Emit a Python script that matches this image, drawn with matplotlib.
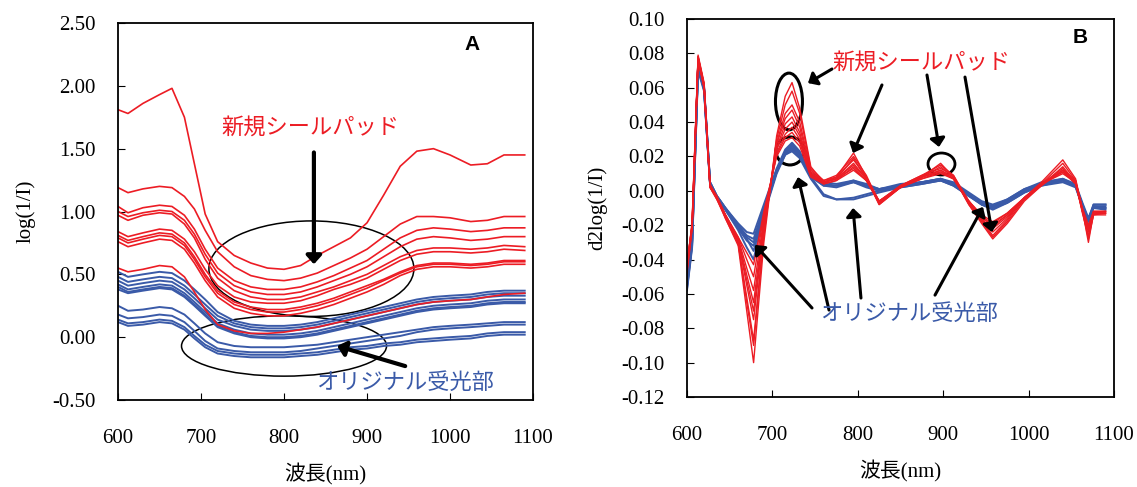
import matplotlib
matplotlib.use("Agg")
import matplotlib.pyplot as plt
from matplotlib.patches import Ellipse

plt.rcParams["font.family"] = ["Liberation Serif", "Noto Sans CJK JP"]

RED = "#ec1c24"
BLUE = "#3a5aa8"
JP = ["Noto Sans CJK JP"]

# ---- panel A: log(1/I) spectra ----
WL_A = [600, 612, 630, 650, 665, 680, 692, 705, 720, 740, 760, 780, 800, 820,
        840, 860, 880, 900, 920, 940, 960, 980, 1000, 1025, 1045, 1065, 1090]

red_a = [
    [1.81, 1.78, 1.86, 1.93, 1.98, 1.75, 1.38, 0.98, 0.76, 0.65, 0.59, 0.55, 0.54, 0.57,
     0.65, 0.72, 0.79, 0.91, 1.13, 1.36, 1.48, 1.50, 1.45, 1.37, 1.38, 1.45, 1.45],
    [1.19, 1.15, 1.18, 1.20, 1.19, 1.12, 1.02, 0.85, 0.68, 0.56, 0.49, 0.46, 0.45, 0.47,
     0.51, 0.57, 0.63, 0.70, 0.80, 0.90, 0.96, 0.96, 0.95, 0.92, 0.93, 0.96, 0.96],
    [1.04, 0.99, 1.03, 1.05, 1.04, 0.97, 0.86, 0.70, 0.55, 0.45, 0.40, 0.38, 0.38, 0.40,
     0.44, 0.49, 0.55, 0.61, 0.70, 0.79, 0.85, 0.87, 0.86, 0.84, 0.85, 0.87, 0.87],
    [1.00, 0.96, 0.99, 1.01, 1.00, 0.93, 0.82, 0.66, 0.51, 0.41, 0.36, 0.34, 0.34, 0.36,
     0.40, 0.45, 0.50, 0.56, 0.64, 0.72, 0.78, 0.80, 0.79, 0.77, 0.78, 0.80, 0.80],
    [0.97, 0.93, 0.97, 0.99, 0.98, 0.90, 0.79, 0.62, 0.47, 0.37, 0.32, 0.30, 0.30, 0.32,
     0.36, 0.40, 0.45, 0.50, 0.57, 0.64, 0.69, 0.71, 0.71, 0.70, 0.71, 0.73, 0.72],
    [0.84, 0.80, 0.83, 0.86, 0.85, 0.78, 0.68, 0.54, 0.41, 0.32, 0.28, 0.27, 0.27, 0.29,
     0.33, 0.38, 0.42, 0.47, 0.54, 0.61, 0.66, 0.68, 0.68, 0.67, 0.68, 0.70, 0.69],
    [0.81, 0.77, 0.80, 0.83, 0.82, 0.75, 0.64, 0.50, 0.37, 0.28, 0.24, 0.22, 0.22, 0.24,
     0.27, 0.31, 0.36, 0.41, 0.46, 0.52, 0.57, 0.59, 0.59, 0.58, 0.59, 0.61, 0.61],
    [0.79, 0.75, 0.78, 0.81, 0.80, 0.73, 0.62, 0.48, 0.35, 0.26, 0.22, 0.20, 0.20, 0.22,
     0.25, 0.29, 0.34, 0.39, 0.45, 0.51, 0.56, 0.58, 0.58, 0.57, 0.58, 0.60, 0.60],
    [0.76, 0.72, 0.75, 0.78, 0.77, 0.70, 0.59, 0.45, 0.32, 0.23, 0.19, 0.17, 0.17, 0.19,
     0.22, 0.26, 0.31, 0.36, 0.42, 0.49, 0.54, 0.56, 0.56, 0.55, 0.56, 0.58, 0.58],
    [0.55, 0.52, 0.54, 0.57, 0.56, 0.48, 0.36, 0.22, 0.10, 0.05, 0.03, 0.03, 0.04, 0.06,
     0.08, 0.11, 0.14, 0.17, 0.20, 0.23, 0.26, 0.28, 0.29, 0.30, 0.32, 0.34, 0.35],
]

blue_a = [
    [0.52, 0.48, 0.50, 0.52, 0.51, 0.45, 0.38, 0.30, 0.20, 0.13, 0.10, 0.09, 0.09, 0.10,
     0.12, 0.15, 0.18, 0.21, 0.24, 0.27, 0.30, 0.32, 0.33, 0.34, 0.36, 0.37, 0.37],
    [0.48, 0.44, 0.46, 0.48, 0.47, 0.41, 0.34, 0.26, 0.17, 0.11, 0.08, 0.07, 0.07, 0.08,
     0.10, 0.13, 0.16, 0.19, 0.22, 0.25, 0.28, 0.30, 0.31, 0.32, 0.34, 0.35, 0.35],
    [0.45, 0.41, 0.43, 0.45, 0.44, 0.38, 0.31, 0.23, 0.14, 0.09, 0.06, 0.05, 0.05, 0.06,
     0.08, 0.11, 0.14, 0.17, 0.20, 0.23, 0.26, 0.28, 0.29, 0.30, 0.32, 0.33, 0.33],
    [0.42, 0.38, 0.40, 0.42, 0.41, 0.35, 0.28, 0.20, 0.11, 0.06, 0.03, 0.02, 0.02, 0.03,
     0.05, 0.08, 0.11, 0.14, 0.17, 0.20, 0.23, 0.25, 0.26, 0.27, 0.29, 0.30, 0.30],
    [0.40, 0.36, 0.38, 0.40, 0.39, 0.33, 0.26, 0.18, 0.09, 0.04, 0.01, 0.00, 0.00, 0.01,
     0.03, 0.06, 0.09, 0.12, 0.15, 0.18, 0.21, 0.23, 0.24, 0.25, 0.27, 0.28, 0.28],
    [0.38, 0.35, 0.37, 0.39, 0.38, 0.32, 0.25, 0.17, 0.08, 0.03, 0.00, -0.01, -0.01, 0.00,
     0.02, 0.05, 0.08, 0.11, 0.14, 0.17, 0.20, 0.22, 0.23, 0.24, 0.26, 0.27, 0.27],
    [0.25, 0.21, 0.22, 0.24, 0.23, 0.18, 0.11, 0.03, -0.04, -0.07, -0.08, -0.08, -0.08, -0.07,
     -0.06, -0.04, -0.02, 0.00, 0.02, 0.04, 0.06, 0.08, 0.09, 0.10, 0.11, 0.12, 0.12],
    [0.18, 0.15, 0.16, 0.18, 0.17, 0.12, 0.05, -0.03, -0.09, -0.11, -0.12, -0.12, -0.12, -0.11,
     -0.09, -0.07, -0.05, -0.03, -0.01, 0.01, 0.04, 0.06, 0.07, 0.08, 0.09, 0.10, 0.10],
    [0.14, 0.11, 0.12, 0.14, 0.13, 0.08, 0.01, -0.06, -0.11, -0.13, -0.14, -0.14, -0.14, -0.13,
     -0.12, -0.10, -0.08, -0.07, -0.05, -0.04, -0.02, -0.01, 0.00, 0.01, 0.03, 0.04, 0.04],
    [0.12, 0.09, 0.10, 0.12, 0.11, 0.06, -0.01, -0.08, -0.13, -0.15, -0.16, -0.16, -0.16, -0.15,
     -0.14, -0.12, -0.10, -0.09, -0.07, -0.06, -0.04, -0.03, -0.02, -0.01, 0.01, 0.02, 0.02],
]

# ---- panel B: second derivative ----
WL_B = [600, 606, 613, 620, 627, 635, 645, 660, 670, 678, 690, 705, 715, 723, 732, 745,
        760, 775, 795, 810, 825, 850, 875, 897, 912, 930, 945, 958, 975, 995, 1015,
        1040, 1055, 1063, 1070, 1076, 1090]

red_b = [
    [-0.045, -0.018, 0.079, 0.063, 0.004, -0.004, -0.016, -0.032, -0.070, -0.100, -0.030, 0.032,
     0.055, 0.063, 0.048, 0.014, 0.005, 0.008, 0.022, 0.008, -0.008, 0.002, 0.008, 0.016, 0.008,
     -0.008, -0.018, -0.027, -0.018, -0.005, 0.004, 0.016, 0.006, -0.012, -0.028, -0.014, -0.013],
    [-0.042, -0.020, 0.078, 0.062, 0.003, -0.004, -0.015, -0.030, -0.065, -0.090, -0.026, 0.030,
     0.050, 0.058, 0.045, 0.013, 0.006, 0.009, 0.020, 0.009, -0.007, 0.003, 0.009, 0.015, 0.009,
     -0.007, -0.017, -0.026, -0.017, -0.004, 0.005, 0.018, 0.007, -0.011, -0.030, -0.013, -0.012],
    [-0.048, -0.022, 0.077, 0.061, 0.002, -0.005, -0.016, -0.031, -0.062, -0.087, -0.024, 0.028,
     0.045, 0.050, 0.040, 0.012, 0.005, 0.007, 0.019, 0.007, -0.008, 0.002, 0.008, 0.014, 0.008,
     -0.008, -0.019, -0.028, -0.019, -0.006, 0.003, 0.014, 0.005, -0.013, -0.026, -0.014, -0.014],
    [-0.044, -0.019, 0.078, 0.062, 0.003, -0.003, -0.014, -0.029, -0.055, -0.075, -0.022, 0.027,
     0.042, 0.047, 0.037, 0.011, 0.006, 0.008, 0.018, 0.008, -0.006, 0.003, 0.009, 0.013, 0.009,
     -0.006, -0.016, -0.024, -0.016, -0.004, 0.004, 0.012, 0.006, -0.011, -0.024, -0.012, -0.012],
    [-0.046, -0.021, 0.077, 0.061, 0.002, -0.004, -0.015, -0.029, -0.052, -0.070, -0.020, 0.025,
     0.039, 0.043, 0.034, 0.010, 0.005, 0.007, 0.016, 0.007, -0.007, 0.002, 0.008, 0.012, 0.008,
     -0.007, -0.017, -0.022, -0.015, -0.005, 0.004, 0.013, 0.005, -0.012, -0.022, -0.013, -0.013],
    [-0.043, -0.020, 0.078, 0.062, 0.003, -0.004, -0.014, -0.028, -0.049, -0.065, -0.018, 0.024,
     0.036, 0.040, 0.032, 0.010, 0.005, 0.007, 0.015, 0.007, -0.006, 0.002, 0.008, 0.012, 0.007,
     -0.006, -0.015, -0.021, -0.014, -0.004, 0.004, 0.011, 0.005, -0.011, -0.021, -0.012, -0.012],
    [-0.047, -0.022, 0.076, 0.060, 0.002, -0.005, -0.015, -0.028, -0.045, -0.058, -0.016, 0.022,
     0.033, 0.037, 0.030, 0.009, 0.004, 0.006, 0.014, 0.006, -0.007, 0.002, 0.007, 0.011, 0.007,
     -0.007, -0.016, -0.020, -0.014, -0.005, 0.003, 0.012, 0.004, -0.012, -0.023, -0.013, -0.013],
    [-0.044, -0.020, 0.077, 0.061, 0.003, -0.004, -0.014, -0.027, -0.040, -0.050, -0.014, 0.021,
     0.031, 0.034, 0.028, 0.009, 0.005, 0.007, 0.013, 0.006, -0.006, 0.003, 0.008, 0.011, 0.007,
     -0.006, -0.015, -0.019, -0.013, -0.004, 0.004, 0.010, 0.005, -0.010, -0.020, -0.012, -0.012],
    [-0.045, -0.021, 0.076, 0.060, 0.002, -0.004, -0.014, -0.027, -0.036, -0.043, -0.012, 0.020,
     0.029, 0.031, 0.026, 0.008, 0.004, 0.006, 0.012, 0.006, -0.006, 0.002, 0.007, 0.010, 0.007,
     -0.006, -0.014, -0.018, -0.013, -0.004, 0.004, 0.011, 0.004, -0.011, -0.022, -0.013, -0.013],
]

blue_b = [
    [-0.055, -0.030, 0.072, 0.060, 0.005, -0.003, -0.010, -0.020, -0.026, -0.028, -0.010, 0.012,
     0.022, 0.025, 0.021, 0.010, 0.004, 0.003, 0.006, 0.003, 0.001, 0.003, 0.005, 0.007, 0.004,
     -0.002, -0.007, -0.009, -0.006, 0.000, 0.004, 0.006, 0.003, -0.008, -0.017, -0.009, -0.009],
    [-0.057, -0.032, 0.071, 0.059, 0.004, -0.004, -0.011, -0.022, -0.029, -0.032, -0.012, 0.011,
     0.023, 0.027, 0.022, 0.009, 0.003, 0.003, 0.005, 0.003, 0.001, 0.003, 0.005, 0.006, 0.004,
     -0.002, -0.008, -0.010, -0.006, 0.000, 0.004, 0.006, 0.003, -0.009, -0.016, -0.009, -0.010],
    [-0.053, -0.028, 0.073, 0.060, 0.005, -0.003, -0.010, -0.019, -0.024, -0.025, -0.008, 0.013,
     0.024, 0.028, 0.023, 0.008, -0.002, -0.005, -0.004, -0.002, 0.000, 0.003, 0.005, 0.007, 0.004,
     -0.003, -0.007, -0.009, -0.005, 0.001, 0.004, 0.007, 0.003, -0.008, -0.018, -0.008, -0.008],
    [-0.056, -0.031, 0.072, 0.059, 0.004, -0.004, -0.011, -0.023, -0.033, -0.040, -0.014, 0.010,
     0.021, 0.023, 0.019, 0.007, -0.003, -0.005, -0.005, -0.003, -0.001, 0.002, 0.004, 0.006, 0.003,
     -0.003, -0.008, -0.010, -0.007, -0.001, 0.003, 0.005, 0.002, -0.009, -0.017, -0.010, -0.011],
    [-0.054, -0.029, 0.073, 0.061, 0.005, -0.003, -0.010, -0.020, -0.027, -0.030, -0.011, 0.012,
     0.022, 0.026, 0.022, 0.010, 0.005, 0.004, 0.006, 0.004, 0.001, 0.004, 0.005, 0.007, 0.005,
     -0.001, -0.006, -0.008, -0.005, 0.001, 0.005, 0.007, 0.004, -0.007, -0.016, -0.008, -0.008],
    [-0.058, -0.033, 0.070, 0.058, 0.004, -0.004, -0.011, -0.021, -0.028, -0.035, -0.013, 0.011,
     0.021, 0.024, 0.020, 0.008, 0.003, 0.002, 0.005, 0.002, 0.000, 0.002, 0.004, 0.006, 0.003,
     -0.003, -0.008, -0.011, -0.007, -0.001, 0.003, 0.006, 0.003, -0.009, -0.018, -0.010, -0.010],
]

LABEL_NEW = "新規シールパッド"
LABEL_ORIG = "オリジナル受光部"


def arrow(ax, tail, head, width=2.2, head_w=9, head_l=10):
    ax.annotate("", xy=head, xytext=tail,
                arrowprops=dict(arrowstyle=f"-|>,head_width={head_w / 20:.2f},head_length={head_l / 20:.2f}",
                                color="black", lw=width, shrinkA=0, shrinkB=0))


def style_axes(ax):
    for sp in ax.spines.values():
        sp.set_linewidth(1.3)
    ax.tick_params(direction="in", length=5, width=0.8, labelsize=15)
    ax.tick_params(axis="y", pad=16)
    ax.tick_params(axis="x", pad=21)
    ax.set_xlim(600, 1100)
    ax.set_xticks([600, 700, 800, 900, 1000, 1100])
    ax.set_xlabel("波長(nm)", fontsize=15, labelpad=11)


fig = plt.figure(figsize=(11.37, 4.87), dpi=100)
ax_a = fig.add_axes([0.1038, 0.1786, 0.365, 0.7742])
ax_b = fig.add_axes([0.6042, 0.1848, 0.3756, 0.7762])

# panel A
for ys in blue_a:
    ax_a.plot(WL_A, ys, color=BLUE, lw=1.4)
for ys in red_a:
    ax_a.plot(WL_A, ys, color=RED, lw=1.2)
style_axes(ax_a)
ax_a.set_ylim(-0.5, 2.5)
ax_a.set_yticks([-0.5, 0.0, 0.5, 1.0, 1.5, 2.0, 2.5])
ax_a.set_yticklabels([f"{v:.2f}" for v in ax_a.get_yticks()])
ax_a.set_ylabel("log(1/I)", fontsize=15, labelpad=12)
ax_a.add_patch(Ellipse((833, 0.545), 247, 0.76, fill=False, ec="black", lw=1.1))
ax_a.add_patch(Ellipse((800, -0.07), 247, 0.48, fill=False, ec="black", lw=1.1))
arrow(ax_a, (836, 1.47), (836, 0.58), width=3.0)
arrow(ax_a, (946, -0.23), (864, -0.07), width=3.0)
ax_a.text(832, 1.67, LABEL_NEW, color=RED, fontsize=16, family=JP, ha="center", va="center")
ax_a.text(946, -0.36, LABEL_ORIG, color=BLUE, fontsize=16, family=JP, ha="center", va="center")
ax_a.text(0.853, 0.942, "A", transform=ax_a.transAxes, fontsize=15, fontweight="bold",
          family=["Liberation Sans"], ha="center", va="center")

# panel B
for ys in blue_b:
    ax_b.plot(WL_B, ys, color=BLUE, lw=1.4)
for ys in red_b:
    ax_b.plot(WL_B, ys, color=RED, lw=1.0)
style_axes(ax_b)
ax_b.set_ylim(-0.12, 0.10)
yt_b = [-0.12, -0.10, -0.08, -0.06, -0.04, -0.02, 0.00, 0.02, 0.04, 0.06, 0.08, 0.10]
ax_b.set_yticks(yt_b)
ax_b.set_yticklabels([f"{v:.2f}" for v in yt_b])
ax_b.set_ylabel("d2log(1/I)", fontsize=15, labelpad=10)
ax_b.add_patch(Ellipse((719.4, 0.052), 31.6, 0.033, fill=False, ec="black", lw=2.2))
ax_b.add_patch(Ellipse((720.6, 0.0232), 32.8, 0.0163, fill=False, ec="black", lw=2.2))
ax_b.add_patch(Ellipse((898, 0.0156), 31.6, 0.0128, fill=False, ec="black", lw=2.0))
arrow(ax_b, (769.8, 0.0709), (741.7, 0.0627))
arrow(ax_b, (828.3, 0.0616), (794.4, 0.0220))
arrow(ax_b, (881.0, 0.0674), (895.1, 0.0255))
arrow(ax_b, (925.5, 0.0662), (957.1, -0.0240))
arrow(ax_b, (746.4, -0.0682), (679.6, -0.0315))
arrow(ax_b, (766.3, -0.0694), (730.0, 0.0080))
arrow(ax_b, (803.7, -0.0624), (794.4, -0.0100))
arrow(ax_b, (890.4, -0.0607), (946.6, -0.0094))
ax_b.text(874.6, 0.075, LABEL_NEW, color=RED, fontsize=16, family=JP, ha="center", va="center")
ax_b.text(859.4, -0.0711, LABEL_ORIG, color=BLUE, fontsize=16, family=JP, ha="center", va="center")
ax_b.text(0.92, 0.95, "B", transform=ax_b.transAxes, fontsize=15, fontweight="bold",
          family=["Liberation Sans"], ha="center", va="center")

fig.savefig("out.png", dpi=100)
